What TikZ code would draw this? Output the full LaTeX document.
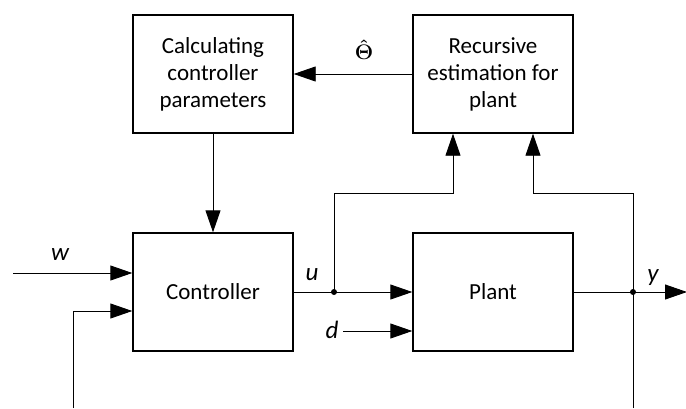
\RequirePackage{fix-cm}
\documentclass[tikz,border=0pt]{standalone}
\usepackage{amsmath}
\usepackage{fontspec}
\setmainfont{Carlito}
\usetikzlibrary{arrows.meta}
\begin{document}
\begin{tikzpicture}[x=1pt,y=-1pt,
  block/.style={draw,line width=1.4pt,minimum width=160pt,minimum height=118pt,
    inner sep=0pt,align=center,font=\fontsize{23}{27}\selectfont},
  sig/.style={line width=0.9pt},
  arr/.style={sig,-{Triangle[length=22pt,width=15pt]}},
  lbl/.style={font=\fontsize{25}{28}\selectfont\itshape,inner sep=0pt},
  junction/.style={circle,fill,inner sep=0pt,minimum size=6pt}]
\useasboundingbox (0,0) rectangle (686,408);

% blocks
\node[block] (calc) at (213,74) {Calculating\\controller\\parameters};
\node[block] (est)  at (493,74) {Recursive\\estimation for\\plant};
\node[block] (ctrl) at (213,292) {Controller};
\node[block] (plant) at (493,292) {Plant};

% junctions and free ends
\node[junction] (ju) at (334,292) {};
\node[junction] (jy) at (633,292) {};
\coordinate (win) at (13,273);
\coordinate (fbin) at (73,408);
\coordinate (din) at (343,331);
\coordinate (yout) at (687,292);
\coordinate (ybot) at (633,408);

% labels
\node[lbl] (wl) at (60,255) {w};
\node[lbl] (ul) at (312,275) {u};
\node[lbl] (dl) at (332,330) {d};
\node[lbl] (yl) at (653,278) {y};
\node[inner sep=0pt,font=\fontsize{21}{24}\selectfont] (th) at (364,50) {$\boldsymbol{\hat{\Theta}}$};

% connectors
\draw[arr] (est.west |- calc.east) -- (calc.east);
\draw[arr] (calc.south) -- (ctrl.north);
\draw[arr] (win) -- (win -| ctrl.west);
\draw[arr] (fbin) |- ([yshift=-19pt]ctrl.west);
\draw[sig] (ctrl.east) -- (ju.center);
\draw[arr] (ju.center) -- (plant.west);
\draw[arr] (ju.center) |- (453,193) -- ([xshift=-40pt]est.south);
\draw[arr] (din) -- (din -| plant.west);
\draw[sig] (plant.east) -- (jy.center);
\draw[arr] (jy.center) -- (yout);
\draw[arr] (ybot) |- (533,193) -- ([xshift=40pt]est.south);
\end{tikzpicture}
\end{document}
